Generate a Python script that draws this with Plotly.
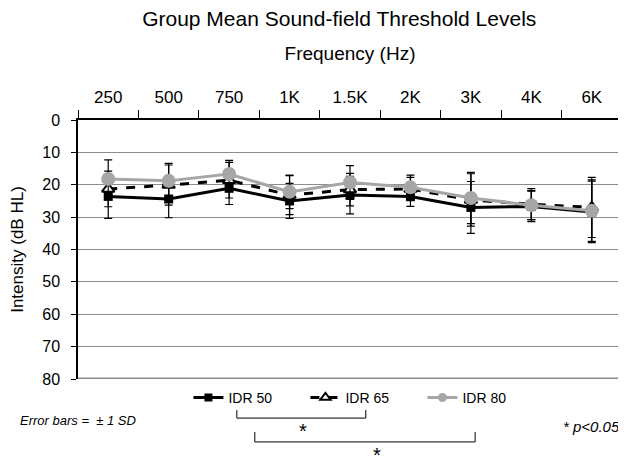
import plotly.graph_objects as go

freqs = ["250", "500", "750", "1K", "1.5K", "2K", "3K", "4K", "6K"]

idr50 = [23.6, 24.4, 21.1, 25.0, 23.2, 23.6, 27.0, 26.7, 28.4]
idr50_sd = [6.8, 5.8, 5.0, 5.4, 5.8, 3.1, 8.0, 4.7, 9.5]

idr65 = [21.3, 20.1, 18.6, 23.2, 21.5, 21.3, 24.7, 26.0, 27.0]
idr65_sd = [5.5, 6.2, 5.5, 6.0, 5.0, 3.6, 8.1, 4.8, 9.3]

idr80 = [18.2, 18.8, 16.7, 22.2, 19.3, 20.8, 24.1, 26.3, 28.0]
idr80_sd = [5.9, 5.4, 4.2, 5.2, 5.2, 3.8, 7.9, 4.5, 9.5]

font = "Liberation Sans, Arial, sans-serif"
grey = "#a6a6a6"

fig = go.Figure()

def err(sd):
    return dict(type="data", array=sd, visible=True, color="black",
                thickness=1.2, width=4)

styles = [
    ("IDR 50", idr50, idr50_sd, dict(color="black", width=3),
     dict(symbol="square", size=9, color="black"), 8),
    ("IDR 65", idr65, idr65_sd, dict(color="black", width=3, dash="dash"),
     dict(symbol="triangle-up", size=11, color="white",
          line=dict(color="black", width=2)), 9),
    ("IDR 80", idr80, idr80_sd, dict(color=grey, width=3),
     dict(symbol="circle", size=14, color=grey), 9),
]

for name, vals, sd, line, marker, legsize in styles:
    fig.add_trace(go.Scatter(x=freqs, y=vals, name=name, mode="lines+markers",
                             line=line, marker=marker, error_y=err(sd),
                             showlegend=False))
    # legend entry with smaller marker, like the original
    legmarker = dict(marker, size=legsize)
    fig.add_trace(go.Scatter(x=[None], y=[None], name=name, mode="lines+markers",
                             line=line, marker=legmarker))

# significance brackets below the legend
def bracket(x0, x1, y0, y1):
    return dict(type="path", xref="paper", yref="paper",
                path=f"M {x0},{y0} L {x0},{y1} L {x1},{y1} L {x1},{y0}",
                line=dict(color="black", width=1))

shapes = [
    bracket(0.292, 0.529, -0.120, -0.151),
    bracket(0.325, 0.730, -0.205, -0.243),
    dict(type="line", xref="paper", yref="y", x0=0, x1=1, y0=80, y1=80,
         line=dict(color="#8c8c8c", width=3)),
    dict(type="line", xref="paper", yref="paper", x0=1, x1=1, y0=0, y1=1,
         line=dict(color="#8c8c8c", width=1.5)),
]

annotations = [
    dict(text="*", x=0.414, y=-0.200, xref="paper", yref="paper",
         yanchor="middle", showarrow=False, font=dict(size=20, color="black")),
    dict(text="*", x=0.550, y=-0.294, xref="paper", yref="paper",
         yanchor="middle", showarrow=False, font=dict(size=20, color="black")),
    dict(text="<i>Error bars =  ± 1 SD</i>", x=-0.110, y=-0.162, xref="paper",
         yref="paper", xanchor="left", yanchor="middle", showarrow=False,
         font=dict(size=13, color="black")),
    dict(text="<i>* p<0.05</i>", x=1.0, y=-0.185, xref="paper", yref="paper",
         xanchor="right", yanchor="middle", showarrow=False,
         font=dict(size=15, color="black")),
]

# page has an 8px body margin, so the figure is 8px smaller than the window
fig.update_layout(
    width=618, height=452,
    margin=dict(l=70, r=4, t=112, b=81),
    paper_bgcolor="white", plot_bgcolor="white",
    font=dict(family=font, size=16, color="black"),
    title=dict(text="Group Mean Sound-field Threshold Levels", x=0.536,
               xanchor="center", y=0.977, yanchor="middle", yref="container",
               font=dict(size=21)),
    xaxis=dict(type="category", side="top", range=[-0.5, 8.5],
               title=dict(text="Frequency (Hz)", standoff=23, font=dict(size=19)),
               showline=True, linecolor="black", linewidth=1.5,
               ticks="outside", tickson="boundaries", ticklen=8,
               tickcolor="black", showgrid=False, ticklabelstandoff=8,
               tickfont=dict(size=17)),
    yaxis=dict(range=[80, 0], dtick=10,
               title=dict(text="Intensity (dB HL)", font=dict(size=17), standoff=19),
               showline=True, linecolor="black", linewidth=1.5,
               ticks="outside", ticklen=5, tickcolor="black", ticklabelstandoff=8,
               gridcolor="#8c8c8c", gridwidth=1, zeroline=False,
               tickfont=dict(size=16)),
    legend=dict(orientation="h", x=0.203, xanchor="left", y=-0.073,
                yanchor="middle", font=dict(size=14), entrywidth=72,
                bgcolor="rgba(0,0,0,0)"),
    shapes=shapes,
    annotations=annotations,
)

fig.write_html("out.html")
